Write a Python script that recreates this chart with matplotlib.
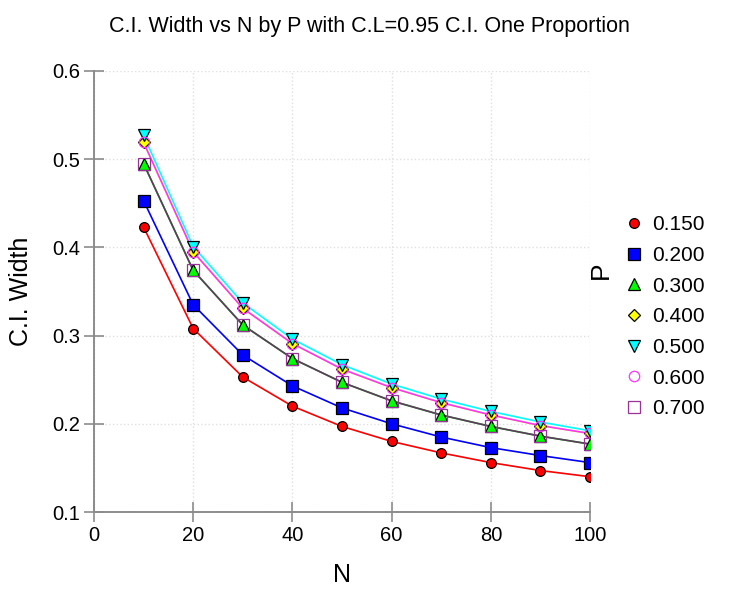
import matplotlib
matplotlib.use('Agg')
import matplotlib.pyplot as plt
from matplotlib.ticker import MultipleLocator

plt.rcParams['font.family'] = ['Liberation Sans', 'DejaVu Sans']

# data
n_vals = [10, 20, 30, 40, 50, 60, 70, 80, 90, 100]
p_labels = ['0.150', '0.200', '0.300', '0.400', '0.500', '0.600', '0.700']
w_015 = [0.423, 0.308, 0.253, 0.220, 0.197, 0.180, 0.167, 0.156, 0.147, 0.140]
w_020 = [0.453, 0.335, 0.278, 0.243, 0.218, 0.200, 0.185, 0.173, 0.164, 0.156]
w_030 = [0.495, 0.374, 0.312, 0.274, 0.247, 0.226, 0.210, 0.197, 0.186, 0.177]
w_040 = [0.519, 0.395, 0.331, 0.291, 0.262, 0.241, 0.224, 0.210, 0.198, 0.189]
w_050 = [0.527, 0.401, 0.337, 0.296, 0.267, 0.245, 0.228, 0.214, 0.202, 0.192]
w_060 = [0.519, 0.395, 0.331, 0.291, 0.262, 0.241, 0.224, 0.210, 0.198, 0.189]
w_070 = [0.495, 0.374, 0.312, 0.274, 0.247, 0.226, 0.210, 0.197, 0.186, 0.177]

series = [w_015, w_020, w_030, w_040, w_050, w_060, w_070]
# (line colour, marker, face, edge, size)
styles = [
    ('#ff0000', 'o', '#ff0000', 'black', 7),
    ('#0000ff', 's', '#0000ff', 'black', 8.5),
    ('#00cc00', '^', '#00ff00', 'black', 9),
    ('#ffff00', 'D', '#ffff00', 'black', 6.5),
    ('#00ffff', 'v', '#00ffff', 'black', 9),
    ('#ff33ff', 'o', 'none', '#ff33ff', 7.5),
    ('#603a60', 's', 'none', '#993399', 9),
]

fig = plt.figure(figsize=(7.5, 5.9), dpi=100)
ax = fig.add_axes([0.1253, 0.1322, 0.6614, 0.7475])

handles = []
for ys, (lc, mk, fc, ec, ms) in zip(series, styles):
    ax.plot(n_vals, ys, color=lc, lw=1.2, zorder=2)
    h, = ax.plot(n_vals, ys, linestyle='none', marker=mk, markersize=ms,
                 markerfacecolor=fc, markeredgecolor=ec, markeredgewidth=0.9,
                 zorder=3)
    handles.append(h)

ax.set_xlim(0, 100)
ax.set_ylim(0.1, 0.6)
ax.xaxis.set_major_locator(MultipleLocator(20))
ax.yaxis.set_major_locator(MultipleLocator(0.1))

ax.grid(True, color='#e0e0e0', linestyle=':', linewidth=1.0, zorder=0)
for s in ['top', 'right']:
    ax.spines[s].set_visible(False)
for s in ['left', 'bottom']:
    ax.spines[s].set_color('#8c8c8c')
    ax.spines[s].set_linewidth(1.4)
ax.tick_params(direction='inout', length=14, width=1.2, color='#8c8c8c',
               labelsize=14.5, pad=3)

ax.set_xlabel('N', fontsize=18, labelpad=13)
ax.set_ylabel('C.I. Width', fontsize=18, labelpad=14)

fig.text(0.493, 0.955, 'C.I. Width vs N by P with C.L=0.95 C.I. One Proportion',
         ha='center', va='center', fontsize=15.5)

leg = fig.legend(handles, p_labels, loc='center left',
                 bbox_to_anchor=(0.82, 0.463), frameon=False, fontsize=15,
                 handlelength=0.8, handletextpad=0.5, labelspacing=0.56,
                 borderpad=0)
fig.text(0.801, 0.542, 'P', rotation=90, ha='center', va='center', fontsize=19)

plt.savefig('out.png', dpi=100)
